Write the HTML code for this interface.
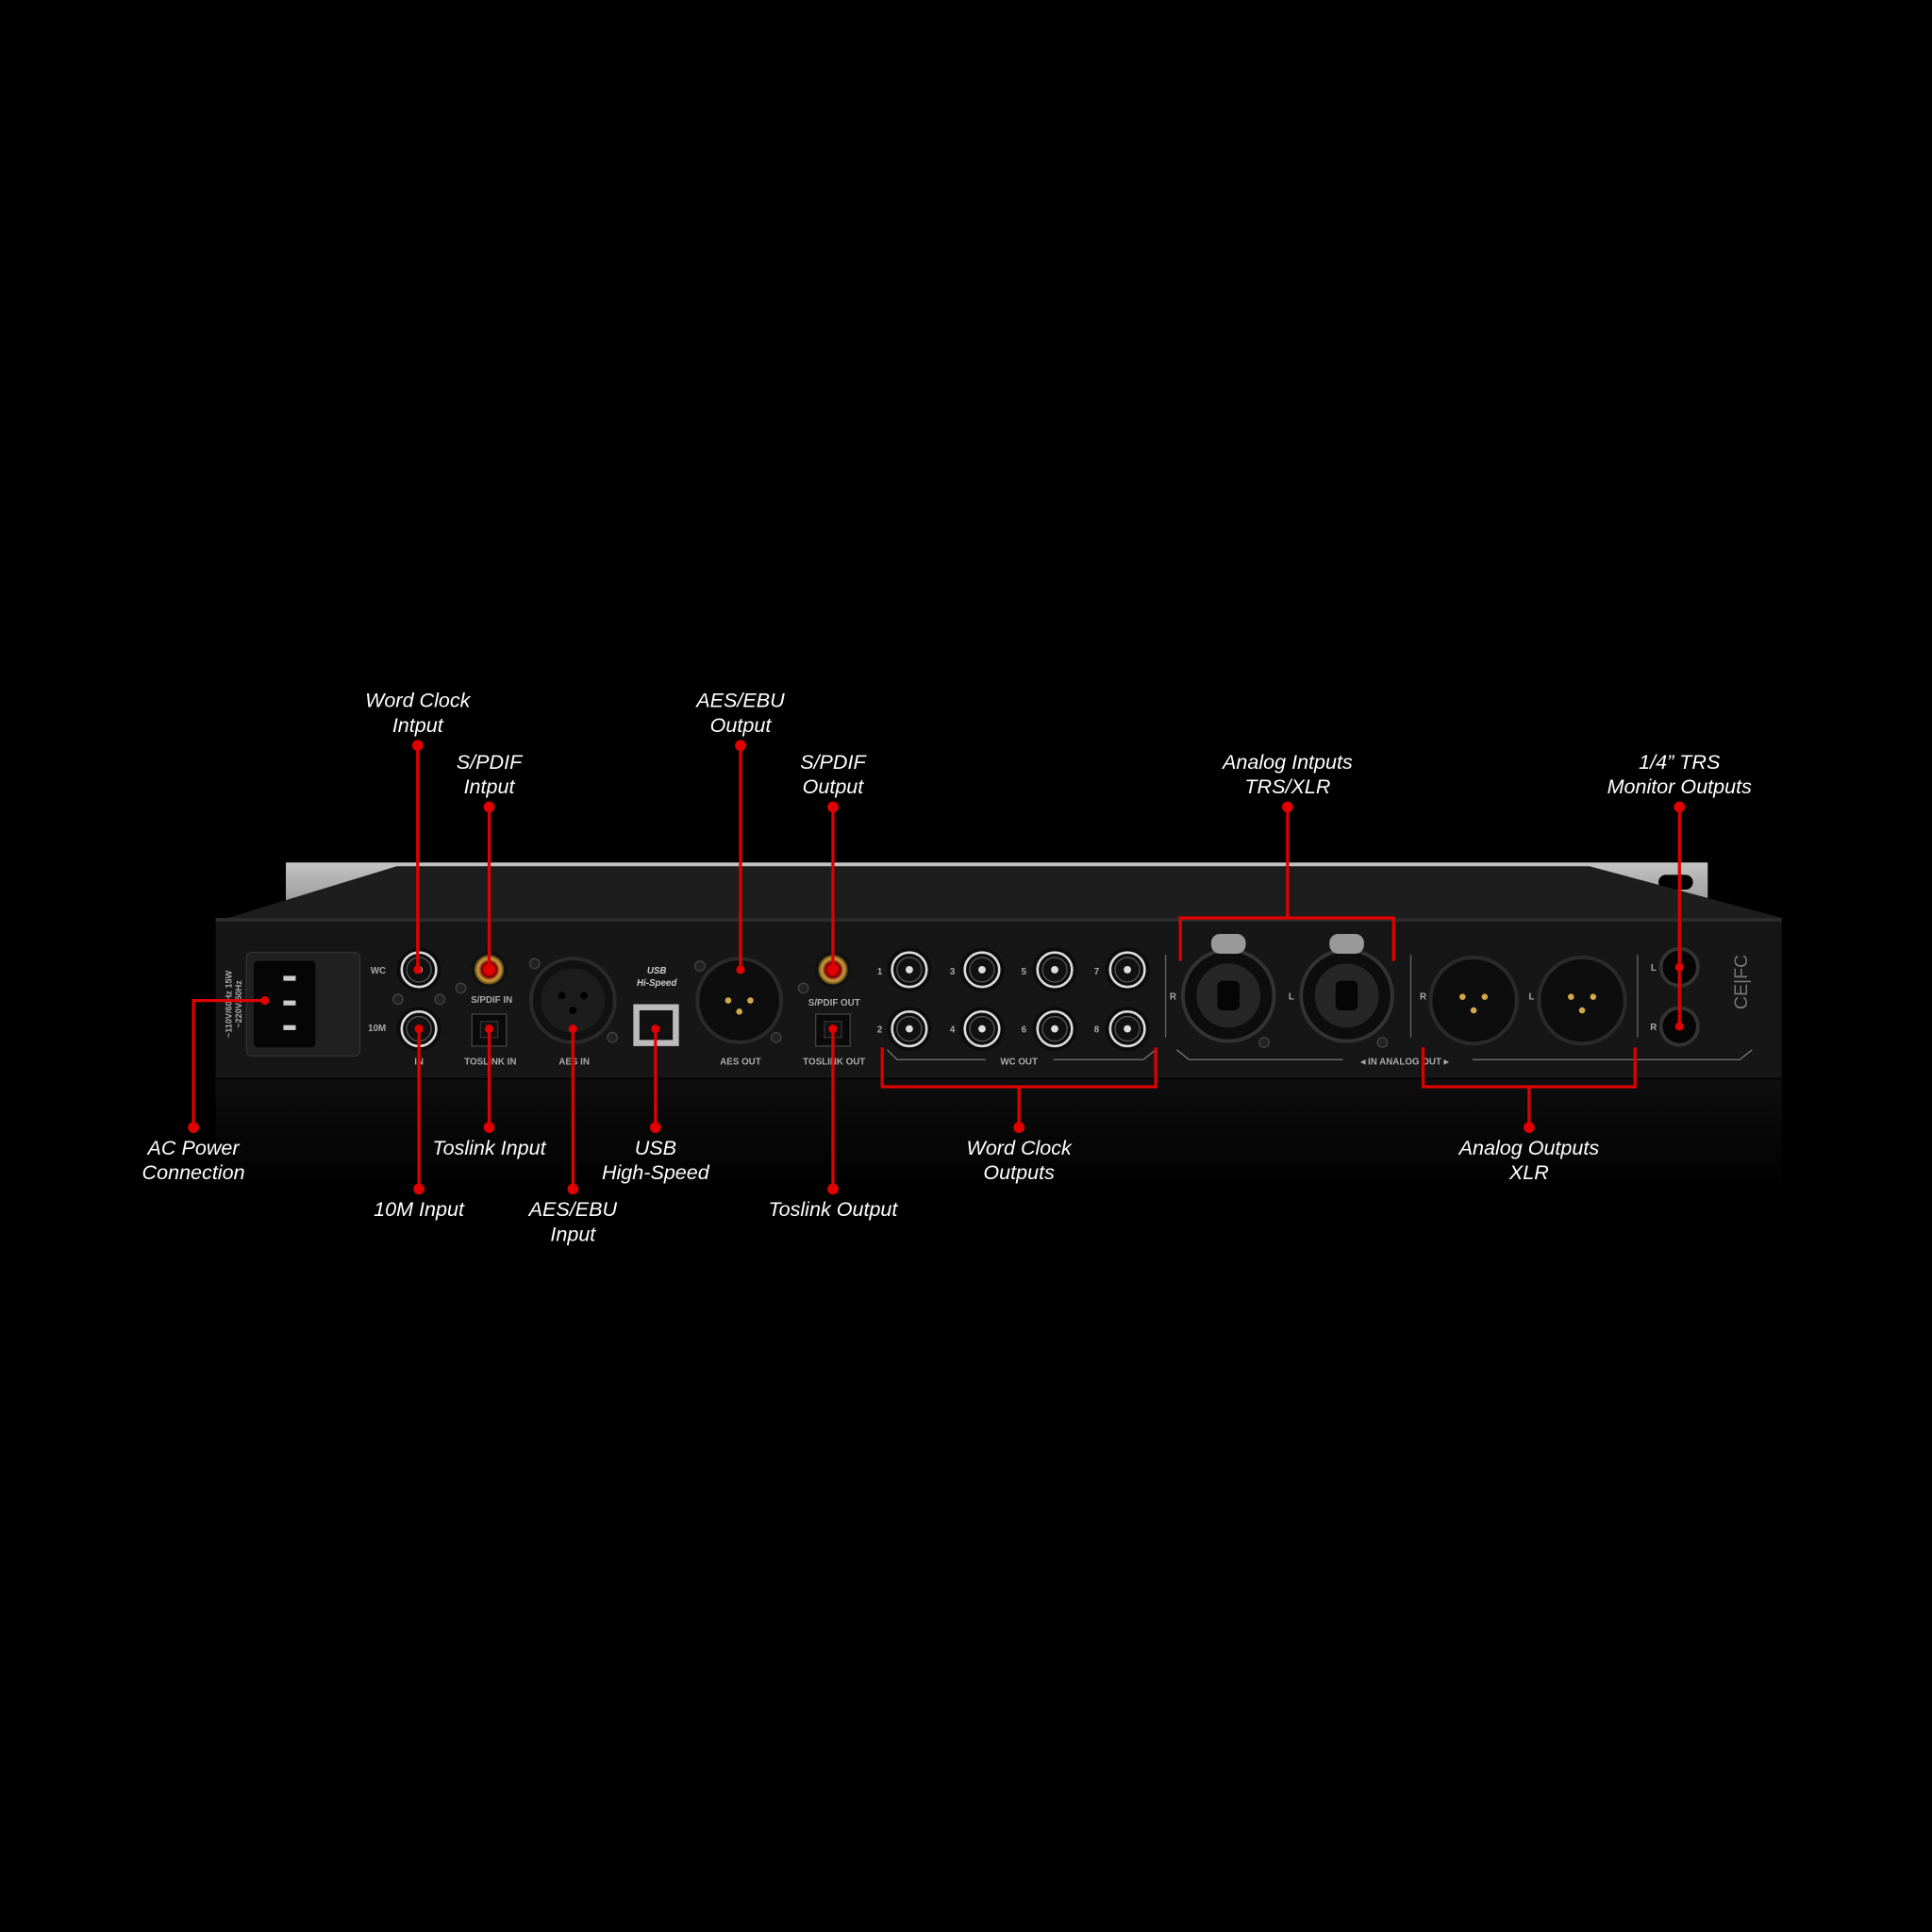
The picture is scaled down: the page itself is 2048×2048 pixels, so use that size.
<!DOCTYPE html>
<html><head><meta charset="utf-8"><style>
html,body{margin:0;padding:0;background:#000;}
svg{display:block;}
.l{font-family:"Liberation Sans",sans-serif;font-style:italic;font-size:16.5px;fill:#fff;text-anchor:middle;}
.s{font-family:"Liberation Sans",sans-serif;font-weight:bold;font-size:7.5px;fill:#aaa;text-anchor:middle;}
</style></head><body>
<svg width="2048" height="2048" viewBox="0 0 1568 1568" xmlns="http://www.w3.org/2000/svg">
<defs>
<linearGradient id="ear" x1="0" y1="0" x2="0" y2="1"><stop offset="0" stop-color="#c4c4c4"/><stop offset="1" stop-color="#8a8a8a"/></linearGradient>
<linearGradient id="refl" x1="0" y1="0" x2="0" y2="1"><stop offset="0" stop-color="#141414"/><stop offset="1" stop-color="#000"/></linearGradient>
<radialGradient id="gold"><stop offset="0.5" stop-color="#7a0000"/><stop offset="0.75" stop-color="#c9a040"/><stop offset="1" stop-color="#5a4010"/></radialGradient>
<g id="bnc"><circle r="18" fill="#0c0c0c"/><circle r="14" fill="none" stroke="#ddd" stroke-width="2"/><circle r="10" fill="#111" stroke="#555" stroke-width="1"/><circle r="3" fill="#ddd"/></g>
<g id="scr"><circle r="4" fill="#222" stroke="#444" stroke-width="1"/></g>
</defs>
<rect width="1568" height="1568" fill="#000"/>
<!-- reflection -->
<rect x="175" y="876" width="1271" height="90" fill="url(#refl)" opacity="0.7"/>
<!-- rack ear -->
<rect x="232" y="700" width="1154" height="46" fill="url(#ear)"/>
<rect x="1346" y="710" width="28" height="12" rx="6" fill="#000"/>
<polygon points="175,748 322,703 1290,703 1446,745" fill="#1d1d1d"/>
<!-- body -->
<rect x="175" y="745" width="1271" height="130" fill="#161616"/>
<rect x="175" y="745" width="1271" height="3" fill="#2c2c2c"/>
<!-- IEC -->
<rect x="200" y="773" width="92" height="84" rx="4" fill="#202020" stroke="#333"/>
<rect x="206" y="780" width="50" height="70" rx="3" fill="#050505"/>
<rect x="230" y="792" width="10" height="4" fill="#ccc"/><rect x="230" y="812" width="10" height="4" fill="#ccc"/><rect x="230" y="832" width="10" height="4" fill="#ccc"/>
<text class="s" transform="translate(188,815) rotate(-90)" style="font-size:7px">~110V/60Hz 15W</text>
<text class="s" transform="translate(196,815) rotate(-90)" style="font-size:7px">~220V/50Hz</text>
<!-- WC / 10M -->
<use href="#bnc" x="340" y="787"/><use href="#bnc" x="340" y="835"/>
<use href="#scr" x="323" y="811"/><use href="#scr" x="357" y="811"/>
<text class="s" x="307" y="790">WC</text><text class="s" x="306" y="837">10M</text>
<text class="s" x="340" y="864">IN</text>
<!-- SPDIF IN -->
<circle cx="397" cy="787" r="15" fill="#111"/><circle cx="397" cy="787" r="12" fill="url(#gold)"/>
<use href="#scr" x="374" y="802"/>
<text class="s" x="399" y="814">S/PDIF IN</text>
<rect x="383" y="823" width="28" height="26" fill="#0a0a0a" stroke="#444"/><rect x="390" y="829" width="14" height="13" fill="#111" stroke="#333"/>
<text class="s" x="398" y="864">TOSLINK IN</text>
<!-- AES IN -->
<circle cx="465" cy="812" r="34" fill="#111" stroke="#2a2a2a" stroke-width="3"/><circle cx="465" cy="812" r="26" fill="#1c1c1c"/>
<circle cx="456" cy="808" r="3" fill="#000"/><circle cx="474" cy="808" r="3" fill="#000"/><circle cx="465" cy="820" r="3" fill="#000"/>
<use href="#scr" x="434" y="782"/><use href="#scr" x="497" y="842"/>
<text class="s" x="466" y="864">AES IN</text>
<!-- USB -->
<text class="s" x="533" y="790" style="font-style:italic;fill:#ccc">USB</text>
<text class="s" x="533" y="800" style="font-style:italic;fill:#ccc">Hi-Speed</text>
<rect x="514" y="815" width="37" height="34" fill="#bbb"/><rect x="519" y="820" width="27" height="24" fill="#111"/>
<!-- AES OUT -->
<circle cx="600" cy="812" r="34" fill="#0d0d0d" stroke="#2a2a2a" stroke-width="3"/>
<circle cx="591" cy="812" r="2.5" fill="#d4a94a"/><circle cx="609" cy="812" r="2.5" fill="#d4a94a"/><circle cx="600" cy="821" r="2.5" fill="#d4a94a"/>
<use href="#scr" x="568" y="784"/><use href="#scr" x="630" y="842"/>
<text class="s" x="601" y="864">AES OUT</text>
<!-- SPDIF OUT -->
<circle cx="676" cy="787" r="15" fill="#111"/><circle cx="676" cy="787" r="12" fill="url(#gold)"/>
<use href="#scr" x="652" y="802"/>
<text class="s" x="677" y="816">S/PDIF OUT</text>
<rect x="662" y="823" width="28" height="26" fill="#0a0a0a" stroke="#444"/><rect x="669" y="829" width="14" height="13" fill="#111" stroke="#333"/>
<text class="s" x="677" y="864">TOSLINK OUT</text>
<!-- WC OUT -->
<g>
<use href="#bnc" x="738" y="787"/><use href="#bnc" x="797" y="787"/><use href="#bnc" x="856" y="787"/><use href="#bnc" x="915" y="787"/>
<use href="#bnc" x="738" y="835"/><use href="#bnc" x="797" y="835"/><use href="#bnc" x="856" y="835"/><use href="#bnc" x="915" y="835"/>
<text class="s" x="714" y="791">1</text><text class="s" x="773" y="791">3</text><text class="s" x="831" y="791">5</text><text class="s" x="890" y="791">7</text>
<text class="s" x="714" y="838">2</text><text class="s" x="773" y="838">4</text><text class="s" x="831" y="838">6</text><text class="s" x="890" y="838">8</text>
<text class="s" x="827" y="864">WC OUT</text>
<path d="M720,852 L728,860 L800,860 M855,860 L928,860 L938,852" stroke="#777" fill="none"/>
</g>
<line x1="946" y1="775" x2="946" y2="842" stroke="#666"/>
<line x1="1145" y1="775" x2="1145" y2="842" stroke="#666"/>
<line x1="1329" y1="775" x2="1329" y2="842" stroke="#666"/>
<!-- combo inputs -->
<g>
<circle cx="997" cy="808" r="37" fill="#0d0d0d" stroke="#333" stroke-width="3"/><circle cx="997" cy="808" r="26" fill="#262626"/><rect x="988" y="796" width="18" height="24" rx="4" fill="#050505"/>
<circle cx="1093" cy="808" r="37" fill="#0d0d0d" stroke="#333" stroke-width="3"/><circle cx="1093" cy="808" r="26" fill="#262626"/><rect x="1084" y="796" width="18" height="24" rx="4" fill="#050505"/>
<rect x="983" y="758" width="28" height="16" rx="7" fill="#999"/><rect x="1079" y="758" width="28" height="16" rx="7" fill="#999"/>
<text class="s" x="952" y="811">R</text><text class="s" x="1048" y="811">L</text>
<use href="#scr" x="1026" y="846"/><use href="#scr" x="1122" y="846"/>
</g>
<!-- XLR outs -->
<circle cx="1196" cy="812" r="35" fill="#0d0d0d" stroke="#2a2a2a" stroke-width="3"/>
<circle cx="1187" cy="809" r="2.5" fill="#d4a94a"/><circle cx="1205" cy="809" r="2.5" fill="#d4a94a"/><circle cx="1196" cy="820" r="2.5" fill="#d4a94a"/>
<circle cx="1284" cy="812" r="35" fill="#0d0d0d" stroke="#2a2a2a" stroke-width="3"/>
<circle cx="1275" cy="809" r="2.5" fill="#d4a94a"/><circle cx="1293" cy="809" r="2.5" fill="#d4a94a"/><circle cx="1284" cy="820" r="2.5" fill="#d4a94a"/>
<text class="s" x="1155" y="811">R</text><text class="s" x="1243" y="811">L</text>
<text class="s" x="1140" y="864">◂ IN  ANALOG  OUT ▸</text>
<path d="M955,852 L965,860 L1090,860 M1195,860 L1412,860 L1422,852" stroke="#777" fill="none"/>
<!-- TRS -->
<circle cx="1363" cy="785" r="15" fill="#050505" stroke="#333" stroke-width="3"/>
<circle cx="1363" cy="833" r="15" fill="#050505" stroke="#333" stroke-width="3"/>
<text class="s" x="1342" y="788">L</text><text class="s" x="1342" y="836">R</text>
<text class="s" x="1418" y="797" style="font-size:15px;font-weight:normal;fill:#777" transform="rotate(-90 1418 797)">CE|FC</text>
<!-- red callouts -->
<g stroke="#e00000" stroke-width="2.5" fill="none">
<path d="M339,605 V787"/><path d="M397,655 V787"/><path d="M601,605 V787"/><path d="M676,655 V787"/>
<path d="M1045,655 V745 M958,780 V745 H1131 V780"/>
<path d="M1363,655 V835"/>
<path d="M157,915 V812 H215"/>
<path d="M340,835 V965"/><path d="M397,835 V915"/><path d="M465,835 V965"/><path d="M532,835 V915"/><path d="M676,835 V965"/>
<path d="M716,850 V882 H938 V850 M827,882 V915"/>
<path d="M1155,850 V882 H1327 V850 M1241,882 V915"/>
</g>
<g fill="#e00000">
<circle cx="339" cy="605" r="4.5"/><circle cx="397" cy="655" r="4.5"/><circle cx="601" cy="605" r="4.5"/><circle cx="676" cy="655" r="4.5"/>
<circle cx="1045" cy="655" r="4.5"/><circle cx="1363" cy="655" r="4.5"/>
<circle cx="157" cy="915" r="4.5"/><circle cx="340" cy="965" r="4.5"/><circle cx="397" cy="915" r="4.5"/><circle cx="465" cy="965" r="4.5"/>
<circle cx="532" cy="915" r="4.5"/><circle cx="676" cy="965" r="4.5"/><circle cx="827" cy="915" r="4.5"/><circle cx="1241" cy="915" r="4.5"/>
<circle cx="215" cy="812" r="3.5"/><circle cx="339" cy="787" r="3.5"/><circle cx="397" cy="787" r="5"/><circle cx="601" cy="787" r="3.5"/><circle cx="676" cy="787" r="5"/>
<circle cx="340" cy="835" r="3.5"/><circle cx="397" cy="835" r="3.5"/><circle cx="465" cy="835" r="3.5"/><circle cx="532" cy="835" r="3.5"/><circle cx="676" cy="835" r="3.5"/>
<circle cx="1363" cy="785" r="3.5"/><circle cx="1363" cy="833" r="3.5"/>
</g>
<!-- labels -->
<text class="l" x="339" y="574">Word Clock</text><text class="l" x="339" y="594">Intput</text>
<text class="l" x="397" y="624">S/PDIF</text><text class="l" x="397" y="644">Intput</text>
<text class="l" x="601" y="574">AES/EBU</text><text class="l" x="601" y="594">Output</text>
<text class="l" x="676" y="624">S/PDIF</text><text class="l" x="676" y="644">Output</text>
<text class="l" x="1045" y="624">Analog Intputs</text><text class="l" x="1045" y="644">TRS/XLR</text>
<text class="l" x="1363" y="624">1/4” TRS</text><text class="l" x="1363" y="644">Monitor Outputs</text>
<text class="l" x="157" y="937">AC Power</text><text class="l" x="157" y="957">Connection</text>
<text class="l" x="397" y="937">Toslink Input</text>
<text class="l" x="532" y="937">USB</text><text class="l" x="532" y="957">High-Speed</text>
<text class="l" x="827" y="937">Word Clock</text><text class="l" x="827" y="957">Outputs</text>
<text class="l" x="1241" y="937">Analog Outputs</text><text class="l" x="1241" y="957">XLR</text>
<text class="l" x="340" y="987">10M Input</text>
<text class="l" x="465" y="987">AES/EBU</text><text class="l" x="465" y="1007">Input</text>
<text class="l" x="676" y="987">Toslink Output</text>
</svg>
</body></html>
